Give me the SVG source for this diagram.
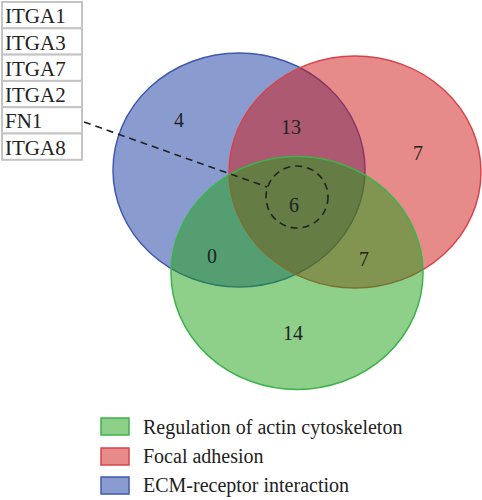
<svg xmlns="http://www.w3.org/2000/svg" width="482" height="500" viewBox="0 0 482 500">
<style>
.num{font-family:"Liberation Serif","Times New Roman",serif;font-size:20px;fill:#222;text-anchor:middle}
.lbl{font-family:"Liberation Serif","Times New Roman",serif;font-size:21px;fill:#222}
.leg{font-family:"Liberation Serif","Times New Roman",serif;font-size:20px;fill:#222}
.box{fill:#fff;stroke:#c4c4c4;stroke-width:2}
.blue{fill:#15399f;fill-opacity:0.5;stroke:#3f58b0;stroke-width:1.5}
.red{fill:#d01616;fill-opacity:0.5;stroke:#d8434a;stroke-width:1.5}
.green{fill:#1d9f15;fill-opacity:0.5;stroke:#3cb44b;stroke-width:1.5}
.dash{fill:none;stroke:#222;stroke-width:1.6;stroke-dasharray:7,5}
</style>
<rect width="482" height="500" fill="#fff"/>
<g id="set-ecm">
<ellipse class="blue" cx="239" cy="170" rx="126" ry="117"/>
</g>
<g id="set-focal">
<ellipse class="red" cx="355" cy="172" rx="126" ry="116"/>
</g>
<g id="set-actin">
<ellipse class="green" cx="297" cy="273" rx="126" ry="116.5"/>
</g>
<g id="counts">
<text class="num" x="179" y="127">4</text>
<text class="num" x="291" y="134">13</text>
<text class="num" x="418" y="160">7</text>
<text class="num" x="294" y="212">6</text>
<text class="num" x="212" y="263">0</text>
<text class="num" x="364" y="266">7</text>
<text class="num" x="293" y="340">14</text>
</g>
<g id="gene-list">
<rect class="box" x="2" y="2" width="80" height="26.3"/>
<rect class="box" x="2" y="28.3" width="80" height="26.3"/>
<rect class="box" x="2" y="54.6" width="80" height="26.3"/>
<rect class="box" x="2" y="80.9" width="80" height="26.3"/>
<rect class="box" x="2" y="107.2" width="80" height="26.3"/>
<rect class="box" x="2" y="133.5" width="80" height="26.3"/>
<text class="lbl" x="5" y="23">ITGA1</text>
<text class="lbl" x="5" y="50">ITGA3</text>
<text class="lbl" x="5" y="76">ITGA7</text>
<text class="lbl" x="5" y="102">ITGA2</text>
<text class="lbl" x="5" y="128">FN1</text>
<text class="lbl" x="5" y="155">ITGA8</text>
</g>
<g id="connectors">
<circle class="dash" cx="297" cy="197" r="31"/>
<line class="dash" x1="84" y1="122" x2="267" y2="187"/>
</g>
<g id="legend">
<rect class="green" x="101" y="418" width="28" height="17" fill-opacity="0.5"/>
<text class="leg" x="143" y="434">Regulation of actin cytoskeleton</text>
<rect class="red" x="101" y="448" width="28" height="17"/>
<text class="leg" x="143" y="463">Focal adhesion</text>
<rect class="blue" x="101" y="477" width="28" height="17"/>
<text class="leg" x="143" y="492">ECM-receptor interaction</text>
</g>
</svg>
